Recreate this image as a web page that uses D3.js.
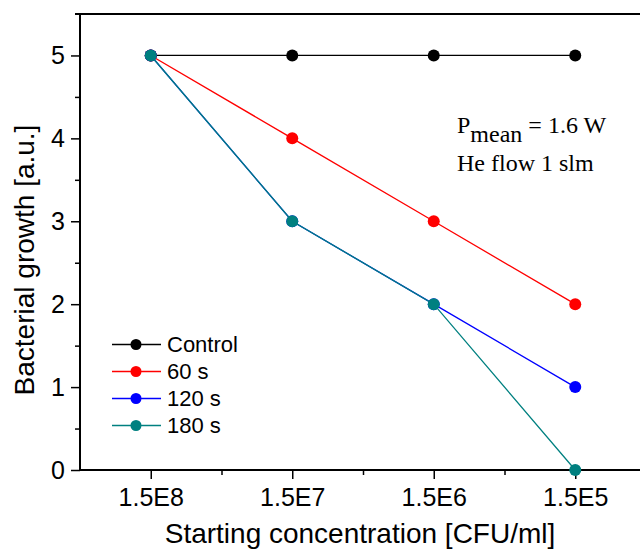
<!DOCTYPE html>
<html><head><meta charset="utf-8">
<script src="https://cdn.jsdelivr.net/npm/d3@7"></script>
<style>body{margin:0;background:#fff}svg{display:block}</style>
</head><body><svg id="c" width="640" height="550"></svg>
<script>
const categories = ["1.5E8","1.5E7","1.5E6","1.5E5"];
const seriesNames = ["Control","60 s","120 s","180 s"];
const seriesColors = ["#000000","#ff0000","#0000ff","#008080"];
const controlValues = [5,5,5,5];
const s60Values = [5,4,3,2];
const s120Values = [5,3,2,1];
const s180Values = [5,3,2,0];
const yTicks = [0,1,2,3,4,5];
const series = [controlValues,s60Values,s120Values,s180Values];

const svg = d3.select("#c");
const pLeft=80, pTop=14, pBottom=470, pRight=646;
const x = d3.scaleLinear().domain([0.5,4.5]).range([pLeft,pRight]);
const y = d3.scaleLinear().domain([0,5.5]).range([pBottom,pTop]);

// axes
const xAxis = svg.append("g").attr("transform",`translate(0,${pBottom})`)
  .call(d3.axisBottom(x).tickValues([1,2,3,4]).tickSize(9).tickPadding(9).tickFormat(d=>categories[d-1]));
xAxis.select(".domain").remove();
xAxis.selectAll("text").attr("font-family","Liberation Sans, Arial").attr("font-size",25).attr("fill","#000").attr("dy","0.71em");
xAxis.selectAll("line").attr("stroke-width",1.5);
svg.append("g").attr("transform",`translate(0,${pBottom})`)
  .call(d3.axisBottom(x).tickValues([1.5,2.5,3.5]).tickSize(5).tickFormat(""))
  .call(g=>g.select(".domain").remove()).selectAll("line").attr("stroke-width",1.5);

const yAxis = svg.append("g").attr("transform",`translate(${pLeft},0)`)
  .call(d3.axisLeft(y).tickValues(yTicks).tickSize(9).tickPadding(6).tickFormat(d3.format("d")));
yAxis.select(".domain").remove();
yAxis.selectAll("text").attr("font-family","Liberation Sans, Arial").attr("font-size",25).attr("fill","#000");
yAxis.selectAll("line").attr("stroke-width",1.5);
svg.append("g").attr("transform",`translate(${pLeft},0)`)
  .call(d3.axisLeft(y).tickValues([0.5,1.5,2.5,3.5,4.5]).tickSize(5).tickFormat(""))
  .call(g=>g.select(".domain").remove()).selectAll("line").attr("stroke-width",1.5);

// frame lines
svg.append("line").attr("x1",pLeft).attr("x2",640).attr("y1",pBottom).attr("y2",pBottom).attr("stroke","#000").attr("stroke-width",2);
svg.append("line").attr("x1",pLeft-5).attr("x2",640).attr("y1",pTop).attr("y2",pTop).attr("stroke","#000").attr("stroke-width",2);
svg.append("line").attr("x1",pLeft).attr("x2",pLeft).attr("y1",pTop).attr("y2",pBottom).attr("stroke","#000").attr("stroke-width",2);

// series
const line = d3.line().x((d,i)=>x(i+1)).y(d=>y(d));
series.forEach((vals,k)=>{
  svg.append("path").datum(vals).attr("d",line).attr("fill","none")
    .attr("stroke",seriesColors[k]).attr("stroke-width",1.3);
  svg.selectAll(null).data(vals).enter().append("circle")
    .attr("cx",(d,i)=>x(i+1)).attr("cy",d=>y(d)).attr("r",6)
    .attr("fill",seriesColors[k]);
});

// legend
const lg = svg.append("g");
seriesNames.forEach((n,k)=>{
  const yy = 344.5 + k*27;
  lg.append("line").attr("x1",112).attr("x2",161).attr("y1",yy).attr("y2",yy).attr("stroke",seriesColors[k]).attr("stroke-width",1.3);
  lg.append("circle").attr("cx",136).attr("cy",yy).attr("r",5.5).attr("fill",seriesColors[k]);
  lg.append("text").attr("x",167).attr("y",yy).attr("dy","0.36em").attr("font-family","Liberation Sans, Arial").attr("font-size",22).text(n);
});

// annotation
const ann = svg.append("text").attr("x",457).attr("y",133).attr("font-family","Liberation Serif, Times New Roman").attr("font-size",24);
ann.append("tspan").text("P");
ann.append("tspan").attr("dy",9).text("mean");
ann.append("tspan").attr("dy",-9).text(" = 1.6 W");
svg.append("text").attr("x",457).attr("y",171).attr("font-family","Liberation Serif, Times New Roman").attr("font-size",24).text("He flow 1 slm");

// axis labels
svg.append("text").attr("x",360).attr("y",543).attr("text-anchor","middle").attr("font-family","Liberation Sans, Arial").attr("font-size",28).text("Starting concentration [CFU/ml]");
svg.append("text").attr("transform","translate(34,260) rotate(-90)").attr("text-anchor","middle").attr("font-family","Liberation Sans, Arial").attr("font-size",28).text("Bacterial growth [a.u.]");
</script></body></html>
